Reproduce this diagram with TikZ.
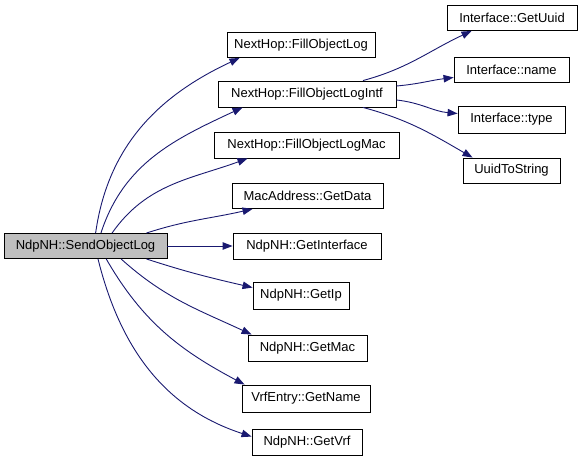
\documentclass[tikz,border=0pt]{standalone}
\usepackage{fontspec}
\setmainfont{Liberation Sans}
\usepackage{xcolor}
\usetikzlibrary{arrows.meta,positioning,calc}
\definecolor{edgeblue}{HTML}{191970}
\definecolor{boxgray}{HTML}{BFBFBF}

\begin{document}
\begin{tikzpicture}[x=1pt,y=-1pt,
  fn/.style={draw,line width=0.9pt,minimum height=25pt,inner sep=0pt,
    font=\fontsize{13}{15}\selectfont},
  call/.style={-{Triangle[length=10pt,width=7.5pt]},line width=0.9pt,edgeblue}]
  \useasboundingbox (0,0) rectangle (583,468);
  % the caller and what it calls
  \node[fn,fill=boxgray,minimum width=163pt] (send) at (85.5,246) {NdpNH::SendObjectLog};
  \node[fn,minimum width=148pt] (fol) at (301,45) {NextHop::FillObjectLog};
  \node[fn,minimum width=178pt,minimum height=26pt] (foli) at (307,94) {NextHop::FillObjectLogIntf};
  \node[fn,minimum width=185pt,minimum height=26pt] (folm) at (306.5,145) {NextHop::FillObjectLogMac};
  \node[fn,minimum width=151pt] (getdata) at (307.5,196) {MacAddress::GetData};
  \node[fn,minimum width=148pt,minimum height=26pt] (getintf) at (307,246) {NdpNH::GetInterface};
  \node[fn,minimum width=96pt,minimum height=27pt] (getip) at (301,295.5) {NdpNH::GetIp};
  \node[fn,minimum width=119pt,minimum height=26pt] (getmac) at (307.5,348) {NdpNH::GetMac};
  \node[fn,minimum width=128pt,minimum height=27pt] (getname) at (306,398.5) {VrfEntry::GetName};
  \node[fn,minimum width=110pt,minimum height=26pt] (getvrf) at (307,442) {NdpNH::GetVrf};
  % called from FillObjectLogIntf
  \node[fn,minimum width=130pt] (getuuid) at (512,18) {Interface::GetUuid};
  \node[fn,minimum width=115pt] (ifname) at (511.5,69.5) {Interface::name};
  \node[fn,minimum width=107pt,minimum height=27pt] (iftype) at (511.5,119.5) {Interface::type};
  \node[fn,minimum width=97pt] (uuidstr) at (511.5,170.5) {UuidToString};

  \draw[call] (send.52) to[out=82,in=205] ([xshift=13pt]fol.south west);
  \draw[call] (send.40) to[out=72,in=205] ([xshift=25pt]foli.south west);
  \draw[call] (send.26) to[out=55,in=200] ([xshift=34pt]folm.south west);
  \draw[call] (send.12) to[out=18,in=193] ([xshift=21pt]getdata.south west);
  \draw[call] (send.east) -- (getintf.west);
  \draw[call] (send.-12) to[out=-18,in=167] ([yshift=-6pt]getip.north west);
  \draw[call] (send.-20) to[out=-42,in=155] ([xshift=4pt]getmac.north west);
  \draw[call] (send.-32) to[out=-60,in=152] ([xshift=3pt]getname.north west);
  \draw[call] (send.-46) to[out=-76,in=162] ([yshift=-8pt]getvrf.north west);

  \draw[call] ([xshift=56pt]foli.north) to[out=15,in=205] ([xshift=25pt]getuuid.south west);
  \draw[call] ([yshift=8pt]foli.east) to[out=5,in=187] ([yshift=-8pt]ifname.west);
  \draw[call] ([yshift=-6pt]foli.east) to[out=-6,in=175] ([yshift=6pt]iftype.west);
  \draw[call] ([xshift=56pt]foli.south) to[out=-15,in=150] ([xshift=10pt]uuidstr.north west);
\end{tikzpicture}
\end{document}
